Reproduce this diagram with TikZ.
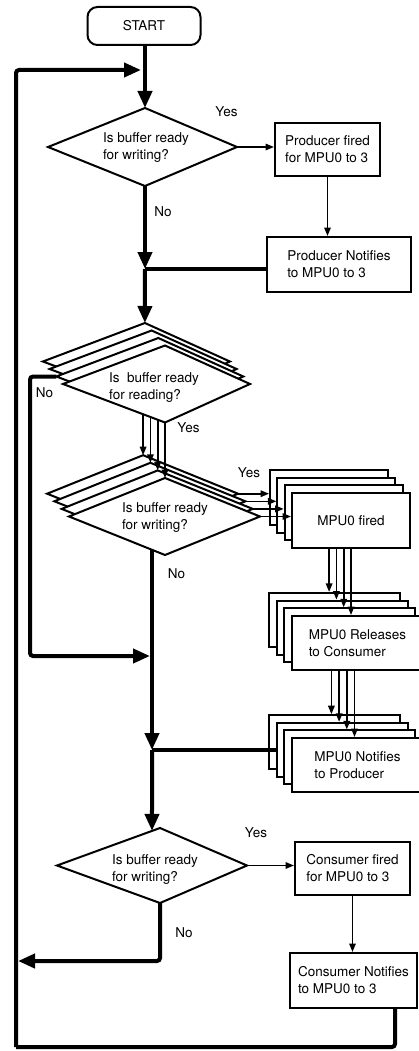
\documentclass[tikz,border=0pt]{standalone}
\usepackage{fontspec}
\setmainfont{TeX Gyre Heros}
\usetikzlibrary{arrows.meta,calc}
\newcommand\kitecoords[6]{%
  \coordinate (#1) at (#2,#3);
  \coordinate (#1-n) at (#2,{#3-#6});
  \coordinate (#1-s) at (#2,{#3+#6});
  \coordinate (#1-w) at ({#2-#4},#3);
  \coordinate (#1-e) at ({#2+#5},#3);}
\newcommand\kitedraw[1]{\path[kiteln] (#1-n) -- (#1-e) -- (#1-s) -- (#1-w) -- cycle;}
\begin{document}
\begin{tikzpicture}[x=1pt,y=-1pt,
  every node/.style={font=\fontsize{13.5}{17}\selectfont},
  thickln/.style={line width=4pt},
  thickarr/.style={line width=4pt,-{Triangle[width=14pt,length=17pt]}},
  thinarr/.style={line width=1.6pt,-{Triangle[width=6.5pt,length=8.5pt]}},
  procbox/.style={draw,line width=2pt,fill=white,align=left,inner sep=0pt},
  startbox/.style={draw,line width=2pt,fill=white,rounded corners=10pt,minimum width=113,minimum height=38,inner sep=0pt},
  kiteln/.style={draw,line width=2pt,fill=white,line join=miter},
  fstack/.style={minimum width=118,minimum height=55},
  rstack/.style={minimum width=131,minimum height=54},
  nstack/.style={minimum width=131,minimum height=54},
  lbl/.style={inner sep=0pt},
  dtext/.style={align=left,inner sep=0pt}]
\useasboundingbox (0,0) rectangle (419,1051);
\fill[white] (0,0) rectangle (419,1051);
\clip (0,0) rectangle (419,1051);

% ---------- geometry of the decision shapes
\kitecoords{d1}{145}{147}{97}{92}{39}
\foreach \i in {0,...,3}{
  \pgfmathsetmacro\kx{165-6.7*(3-\i)}
  \pgfmathsetmacro\ky{384-7.5*(3-\i)}
  \kitecoords{rd\i}{\kx}{\ky}{102}{85}{38.5}
  \pgfmathsetmacro\wx{165-7.3*(3-\i)}
  \pgfmathsetmacro\wy{516.5-7.6*(3-\i)}
  \kitecoords{wr\i}{\wx}{\wy}{96}{95}{38.5}
}
\kitecoords{d4}{160}{865.5}{103}{87}{37.5}
\coordinate (d4in) at ($(d4-n)!0.0777!(d4-w)$);

% ---------- junction and corner points
\coordinate (j0) at (141,70);
\coordinate (j1) at (145,269);
\coordinate (j3) at (150,656);
\coordinate (j4) at (152,750);
\coordinate (rl) at (30,656);
\coordinate (lb) at (395,1047);
\coordinate (lc) at (16,1047);
\coordinate (nl) at (18,961);

% ---------- top part
\node[startbox] (start) at (144,26) {START};
\node[procbox,minimum width=105,minimum height=53] (pf) at (327.5,149.5) {Producer fired\\for MPU0 to 3};
\node[procbox,minimum width=144,minimum height=55] (pn) at (339,264.5) {Producer Notifies\\to MPU0 to 3};
\draw[thickarr] (start.south -| d1-n) -- (d1-n);
\kitedraw{d1}
\node[dtext] (d1t) at (146,148) {Is buffer ready\\for writing?};
\draw[thinarr] (d1-e) -- (d1-e -| pf.west);
\draw[thinarr] (pf.south) -- (pf.south |- pn.north);
\draw[thickarr] (d1-s) -- (j1);
\draw[thickln] (pn.west |- j1) -- (j1);
\draw[thickarr] (j1) -- (rd0-n);

% ---------- outer loop
\draw[thickarr,rounded corners=3pt] (lc) |- (j0);

% ---------- lower main line (partly hidden by the writing stack)
\draw[thickarr] (wr1-s -| j4) -- (j4);

% ---------- writing stack with arrows from the reading stack
\foreach \i in {0,...,3}{
  \kitedraw{wr\i}
  \draw[thinarr] ($(wr\i-n |- rd\i-s)+(0,-6)$) -- (wr\i-n);
}
\node[dtext] (wrt) at (165,518) {Is buffer ready\\for writing?};

% ---------- reading stack
\foreach \i in {0,...,3}{\kitedraw{rd\i}}
\node[dtext] (rdt) at (154,388) {Is\ \ buffer ready\\for reading?};
\draw[thickarr,rounded corners=3pt] (rd2-w) -| (rl) -- (j3);

% ---------- notifies stack
\foreach \i in {0,1,2}{
  \pgfmathsetmacro\bx{357.5-7.7*(3-\i)}
  \pgfmathsetmacro\by{765-7.6*(3-\i)}
  \node[procbox,nstack] (nb\i) at (\bx,\by) {};
  \pgfmathsetmacro\rx{354.5-7.7*(3-\i)}
  \pgfmathsetmacro\ry{670-7.7*(3-\i)}
  \coordinate (ra\i) at (\rx,\ry);
  \draw[thinarr] (ra\i) -- (ra\i |- nb\i.north);
}
\node[procbox,nstack] (nb3) at (357.5,765) {MPU0 Notifies\\to Producer};
\coordinate (ra3) at (354.5,670);
\draw[thinarr] (ra3) -- (ra3 |- nb3.north);
\draw[thickln] (nb1.west) -- (nb1.west -| j4);

% ---------- releases stack
\foreach \i in {0,1,2}{
  \pgfmathsetmacro\bx{357.5-7.7*(3-\i)}
  \pgfmathsetmacro\by{643-7.7*(3-\i)}
  \node[procbox,rstack] (rb\i) at (\bx,\by) {};
  \pgfmathsetmacro\fx{351-7.3*(3-\i)}
  \pgfmathsetmacro\fy{548-7.7*(3-\i)}
  \coordinate (fa\i) at (\fx,\fy);
  \draw[thinarr] (fa\i) -- (fa\i |- rb\i.north);
}
\node[procbox,rstack] (rb3) at (357.5,643) {MPU0 Releases\\to Consumer};
\coordinate (fa3) at (351,548);
\draw[thinarr] (fa3) -- (fa3 |- rb3.north);

% ---------- fired stack
\foreach \i in {0,1,2}{
  \pgfmathsetmacro\bx{351-7.3*(3-\i)}
  \pgfmathsetmacro\by{520.5-7.7*(3-\i)}
  \node[procbox,fstack] (fb\i) at (\bx,\by) {};
  \draw[thinarr] (wr\i-e) -- (wr\i-e -| fb\i.west);
}
\node[procbox,fstack] (fb3) at (351,520.5) {MPU0 fired};
\draw[thinarr] (wr3-e) -- (wr3-e -| fb3.west);

% ---------- bottom part
\draw[thickarr] (j4) -- (d4in);
\kitedraw{d4}
\node[dtext] (d4t) at (155,870) {Is buffer ready\\for writing?};
\node[procbox,minimum width=115,minimum height=53] (cf) at (352.5,868.5) {Consumer fired\\for MPU0 to 3};
\node[procbox,minimum width=127,minimum height=55] (cn) at (353.5,980.5) {Consumer Notifies\\to MPU0 to 3};
\draw[thinarr] (d4-e) -- (d4-e -| cf.west);
\draw[thinarr] (cf.south) -- (cf.south |- cn.north);
\draw[thickarr,rounded corners=3pt] (d4-s) |- (nl);
\draw[thickln,rounded corners=3pt] (cn.south -| lb) -- (lb) -- (lc);

% ---------- labels
\node[lbl] (y1) at (226.5,112) {Yes};
\node[lbl] (no1) at (163,212) {No};
\node[lbl] (no2) at (44.5,392.5) {No};
\node[lbl] (y2) at (188.5,427.5) {Yes};
\node[lbl] (y3) at (249,473) {Yes};
\node[lbl] (no3) at (176.5,573.5) {No};
\node[lbl] (y4) at (256,833) {Yes};
\node[lbl] (no4) at (184,932.5) {No};
\end{tikzpicture}
\end{document}
